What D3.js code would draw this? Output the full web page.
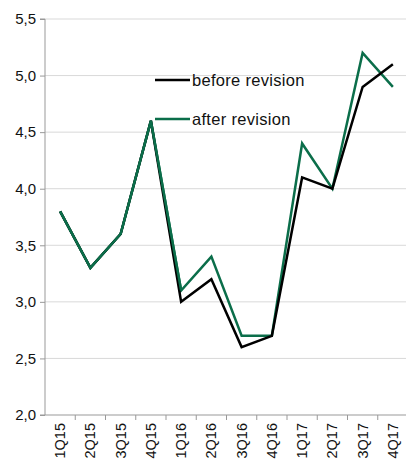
<!DOCTYPE html>
<html>
<head>
<meta charset="utf-8">
<script src="https://cdn.jsdelivr.net/npm/d3@7"></script>
<style>
  body { margin: 0; background: #fff; }
  svg { display: block; font-family: "Liberation Sans", Arial, sans-serif; }
</style>
</head>
<body>
<svg width="406" height="462"></svg>
<script>
const quarters = ["1Q15", "2Q15", "3Q15", "4Q15", "1Q16", "2Q16", "3Q16", "4Q16", "1Q17", "2Q17", "3Q17", "4Q17"];
const beforeRevision = [3.8, 3.3, 3.6, 4.6, 3.0, 3.2, 2.6, 2.7, 4.1, 4.0, 4.9, 5.1];
const afterRevision = [3.8, 3.3, 3.6, 4.6, 3.1, 3.4, 2.7, 2.7, 4.4, 4.0, 5.2, 4.9];
const yTicks = [2.0, 2.5, 3.0, 3.5, 4.0, 4.5, 5.0, 5.5];

const margin = { top: 19, left: 45, right: 0, bottom: 47 };
const width = 408 - margin.left;
const height = 462 - margin.top - margin.bottom;
const green = "#0b6e4a";

let svg = d3.select("svg");
let g = svg.append("g")
    .attr("transform", `translate(${margin.left}, ${margin.top})`);

let x = d3.scaleBand()
    .domain(quarters)
    .range([0, width]);

let y = d3.scaleLinear()
    .domain([2, 5.5])
    .range([height, 0]);

let fmt = d => d.toFixed(1).replace(".", ",");

// gridlines
g.append("g")
    .selectAll("line")
    .data(yTicks.slice(1))
    .enter()
    .append("line")
    .attr("x1", 0)
    .attr("x2", width)
    .attr("y1", d => y(d))
    .attr("y2", d => y(d))
    .attr("stroke", "#d9d9d9")
    .attr("stroke-width", 1);

// y axis
let yAxis = g.append("g")
    .call(d3.axisLeft(y).tickValues(yTicks).tickFormat(fmt).tickSize(5).tickPadding(4));
yAxis.select(".domain").attr("stroke", "#999").attr("d", `M-5,${height}H0V0H-5`);
yAxis.selectAll(".tick line").attr("stroke", "#999");
yAxis.selectAll("text")
    .attr("font-size", 15)
    .attr("fill", "#111")
    .attr("font-family", "Liberation Sans, Arial, sans-serif");

// x axis
let xAxis = g.append("g")
    .attr("transform", `translate(0, ${height})`)
    .call(d3.axisBottom(x).tickSize(0).tickFormat(""));
xAxis.select(".domain").attr("stroke", "#999").attr("d", `M0,0H${width}`);
xAxis.selectAll(".tick").remove();

g.append("g")
    .selectAll("line")
    .data(quarters)
    .enter()
    .append("line")
    .attr("x1", d => x(d) + x.bandwidth())
    .attr("x2", d => x(d) + x.bandwidth())
    .attr("y1", height)
    .attr("y2", height + 5)
    .attr("stroke", "#999");

g.append("g")
    .selectAll("text")
    .data(quarters)
    .enter()
    .append("text")
    .attr("transform", d => `translate(${x(d) + x.bandwidth() / 2 + 5}, ${height + 8}) rotate(-90)`)
    .attr("text-anchor", "end")
    .attr("font-size", 14.5)
    .attr("fill", "#111")
    .text(d => d);

let line = d3.line()
    .x((d, i) => x(quarters[i]) + x.bandwidth() / 2)
    .y(d => y(d));

g.append("path")
    .datum(afterRevision)
    .attr("fill", "none")
    .attr("stroke", green)
    .attr("stroke-width", 2.5)
    .attr("d", line);

g.append("path")
    .datum(beforeRevision)
    .attr("fill", "none")
    .attr("stroke", "#000")
    .attr("stroke-width", 2.5)
    .attr("d", line);

g.append("path")
    .datum(afterRevision)
    .attr("fill", "none")
    .attr("stroke", green)
    .attr("stroke-width", 2.5)
    .attr("d", d => line(d.slice(0, 5)));

// legend
let legend = [
    { label: "before revision", color: "#000", y: 80 },
    { label: "after revision", color: green, y: 119 }
];
let lg = svg.append("g");
legend.forEach(l => {
    lg.append("line")
        .attr("x1", 155).attr("x2", 190)
        .attr("y1", l.y).attr("y2", l.y)
        .attr("stroke", l.color)
        .attr("stroke-width", 2.5);
    lg.append("text")
        .attr("x", 192)
        .attr("y", l.y + 6)
        .attr("font-size", 16.5)
        .attr("letter-spacing", 0.3)
        .attr("fill", "#111")
        .text(l.label);
});
</script>
</body>
</html>
